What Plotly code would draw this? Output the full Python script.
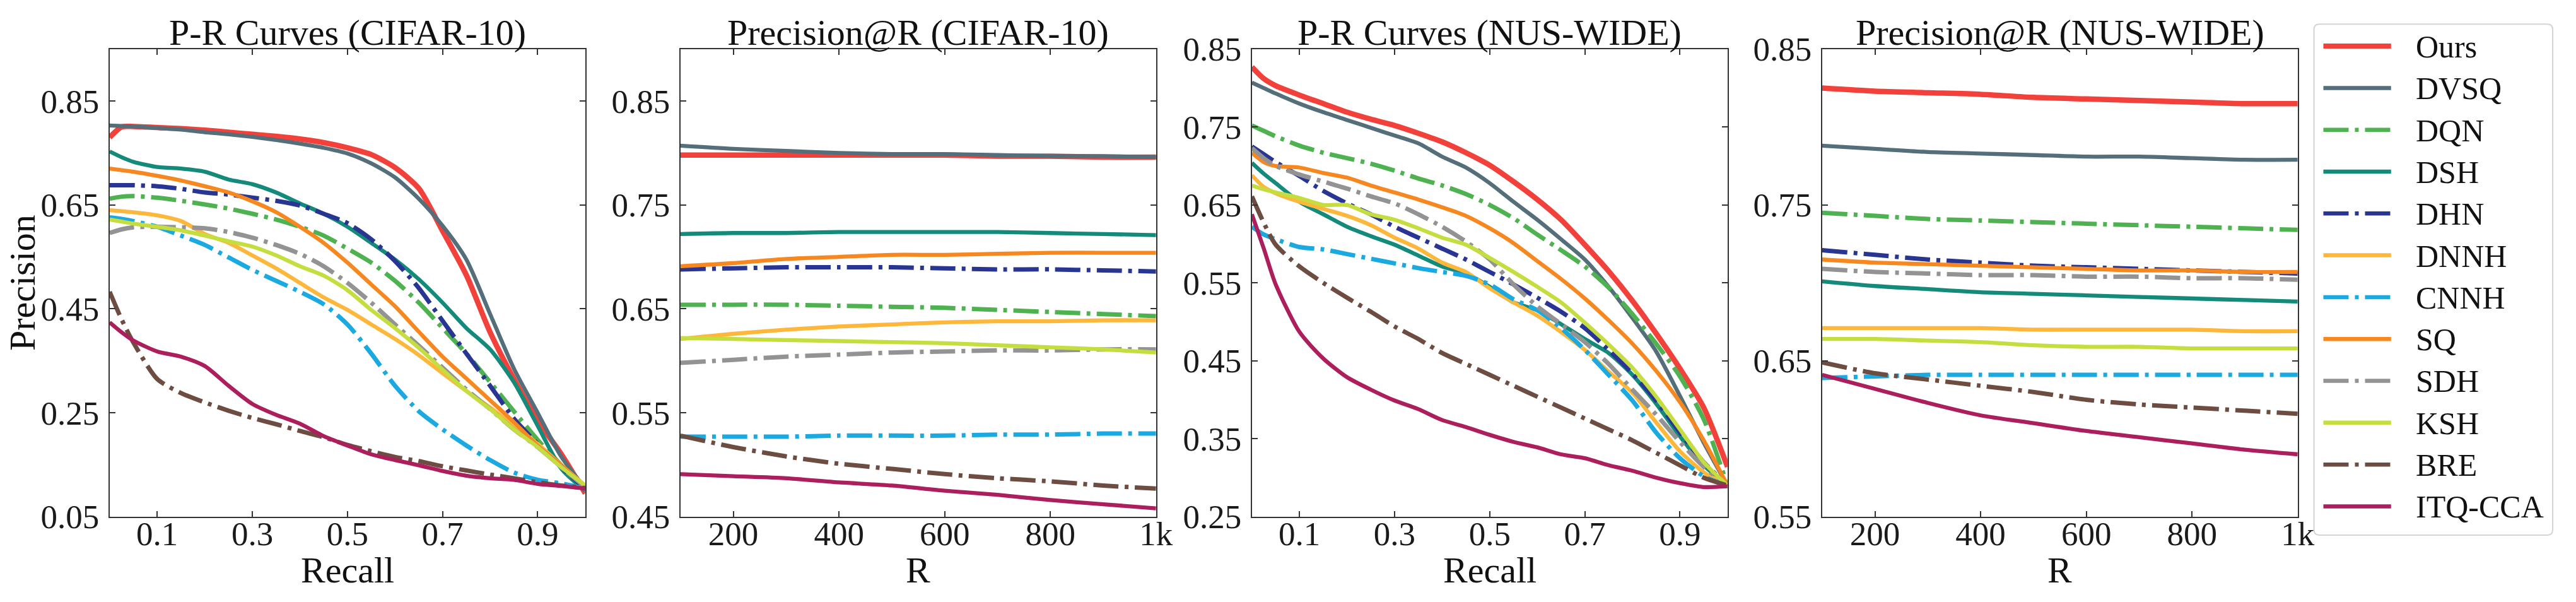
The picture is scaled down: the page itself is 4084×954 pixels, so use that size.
import plotly.graph_objects as go

# ---------------- data ----------------
methods = ["Ours", "DVSQ", "DQN", "DSH", "DHN", "DNNH", "CNNH", "SQ", "SDH", "KSH", "BRE", "ITQ-CCA"]
colors = ["#F2413A", "#546E7A", "#4DB24F", "#138A7A", "#283593", "#FDB73B",
          "#1AA9E0", "#F7871F", "#939393", "#C6DD3F", "#6D4C41", "#AD1F5C"]
dashdot = ["DQN", "DHN", "CNNH", "SDH", "BRE"]

recall = [0, 0.025, 0.05, 0.1, 0.15, 0.2, 0.25, 0.3, 0.35, 0.4, 0.45, 0.5,
          0.55, 0.6, 0.65, 0.7, 0.75, 0.8, 0.85, 0.9, 0.95, 1.0]
r_values = [100, 200, 300, 400, 500, 600, 700, 800, 900, 1000]

pr_cifar = {
    "Ours":    [0.780, 0.800, 0.801, 0.799, 0.797, 0.794, 0.790, 0.786, 0.782, 0.777, 0.770, 0.760, 0.747, 0.722, 0.682, 0.600, 0.515, 0.405, 0.315, 0.235, 0.170, 0.095],
    "DVSQ":    [0.803, 0.802, 0.801, 0.798, 0.795, 0.790, 0.786, 0.781, 0.775, 0.768, 0.760, 0.749, 0.730, 0.703, 0.662, 0.610, 0.545, 0.440, 0.335, 0.250, 0.165, 0.105],
    "DQN":     [0.662, 0.666, 0.667, 0.664, 0.658, 0.651, 0.643, 0.633, 0.622, 0.608, 0.591, 0.566, 0.539, 0.504, 0.462, 0.413, 0.364, 0.309, 0.253, 0.198, 0.149, 0.107],
    "DSH":     [0.753, 0.742, 0.733, 0.723, 0.720, 0.714, 0.699, 0.690, 0.674, 0.653, 0.633, 0.608, 0.577, 0.545, 0.507, 0.462, 0.413, 0.372, 0.309, 0.225, 0.142, 0.100],
    "DHN":     [0.688, 0.688, 0.688, 0.686, 0.681, 0.674, 0.670, 0.664, 0.658, 0.649, 0.633, 0.615, 0.584, 0.542, 0.490, 0.427, 0.364, 0.302, 0.239, 0.190, 0.145, 0.104],
    "DNNH":    [0.640, 0.638, 0.636, 0.630, 0.619, 0.594, 0.577, 0.553, 0.528, 0.500, 0.472, 0.448, 0.420, 0.392, 0.361, 0.326, 0.292, 0.260, 0.225, 0.190, 0.149, 0.110],
    "CNNH":    [0.626, 0.623, 0.619, 0.608, 0.591, 0.573, 0.549, 0.525, 0.504, 0.483, 0.459, 0.420, 0.364, 0.302, 0.253, 0.218, 0.187, 0.159, 0.135, 0.121, 0.114, 0.104],
    "SQ":      [0.720, 0.717, 0.714, 0.706, 0.697, 0.686, 0.674, 0.657, 0.636, 0.608, 0.577, 0.539, 0.497, 0.455, 0.406, 0.358, 0.316, 0.274, 0.232, 0.187, 0.149, 0.107],
    "SDH":     [0.596, 0.603, 0.607, 0.608, 0.607, 0.605, 0.598, 0.587, 0.573, 0.556, 0.532, 0.500, 0.462, 0.420, 0.379, 0.337, 0.295, 0.257, 0.218, 0.184, 0.145, 0.107],
    "KSH":     [0.622, 0.618, 0.614, 0.608, 0.601, 0.591, 0.580, 0.570, 0.553, 0.532, 0.514, 0.486, 0.448, 0.413, 0.375, 0.333, 0.292, 0.257, 0.218, 0.184, 0.145, 0.110],
    "BRE":     [0.483, 0.430, 0.385, 0.315, 0.288, 0.270, 0.254, 0.240, 0.228, 0.215, 0.203, 0.188, 0.176, 0.165, 0.157, 0.147, 0.139, 0.131, 0.124, 0.116, 0.110, 0.105],
    "ITQ-CCA": [0.424, 0.405, 0.389, 0.368, 0.358, 0.340, 0.302, 0.267, 0.246, 0.229, 0.205, 0.187, 0.170, 0.159, 0.149, 0.138, 0.129, 0.124, 0.121, 0.113, 0.109, 0.104],
}

patr_cifar = {
    "Ours":    [0.798, 0.798, 0.798, 0.798, 0.798, 0.798, 0.797, 0.797, 0.796, 0.796],
    "DVSQ":    [0.807, 0.804, 0.802, 0.800, 0.799, 0.799, 0.798, 0.797, 0.797, 0.796],
    "DQN":     [0.654, 0.654, 0.654, 0.653, 0.652, 0.651, 0.649, 0.647, 0.645, 0.643],
    "DSH":     [0.722, 0.723, 0.723, 0.724, 0.724, 0.724, 0.724, 0.723, 0.722, 0.721],
    "DHN":     [0.688, 0.689, 0.690, 0.690, 0.690, 0.689, 0.688, 0.688, 0.687, 0.686],
    "DNNH":    [0.621, 0.626, 0.630, 0.633, 0.635, 0.637, 0.638, 0.638, 0.639, 0.639],
    "CNNH":    [0.527, 0.527, 0.527, 0.528, 0.528, 0.528, 0.529, 0.529, 0.530, 0.530],
    "SQ":      [0.691, 0.694, 0.698, 0.700, 0.702, 0.702, 0.703, 0.704, 0.704, 0.704],
    "SDH":     [0.598, 0.601, 0.604, 0.606, 0.608, 0.609, 0.610, 0.610, 0.611, 0.611],
    "KSH":     [0.622, 0.621, 0.620, 0.619, 0.618, 0.617, 0.615, 0.613, 0.611, 0.608],
    "BRE":     [0.528, 0.517, 0.508, 0.501, 0.496, 0.491, 0.487, 0.484, 0.480, 0.477],
    "ITQ-CCA": [0.491, 0.489, 0.487, 0.483, 0.480, 0.475, 0.471, 0.466, 0.462, 0.458],
}

pr_nus = {
    "Ours":    [0.827, 0.812, 0.803, 0.791, 0.780, 0.769, 0.760, 0.752, 0.742, 0.731, 0.717, 0.701, 0.680, 0.657, 0.631, 0.599, 0.565, 0.527, 0.485, 0.440, 0.390, 0.314],
    "DVSQ":    [0.807, 0.800, 0.793, 0.780, 0.769, 0.759, 0.749, 0.739, 0.729, 0.712, 0.698, 0.678, 0.654, 0.631, 0.606, 0.580, 0.545, 0.505, 0.462, 0.405, 0.345, 0.290],
    "DQN":     [0.752, 0.745, 0.738, 0.726, 0.717, 0.710, 0.703, 0.694, 0.684, 0.675, 0.664, 0.650, 0.633, 0.612, 0.592, 0.571, 0.544, 0.510, 0.472, 0.430, 0.375, 0.290],
    "DSH":     [0.704, 0.690, 0.678, 0.654, 0.638, 0.622, 0.610, 0.599, 0.585, 0.571, 0.562, 0.545, 0.525, 0.515, 0.497, 0.478, 0.460, 0.432, 0.395, 0.353, 0.316, 0.290],
    "DHN":     [0.725, 0.715, 0.705, 0.687, 0.668, 0.652, 0.638, 0.622, 0.608, 0.594, 0.580, 0.564, 0.548, 0.531, 0.513, 0.492, 0.464, 0.434, 0.399, 0.358, 0.320, 0.290],
    "DNNH":    [0.688, 0.673, 0.665, 0.654, 0.645, 0.636, 0.624, 0.608, 0.594, 0.576, 0.564, 0.543, 0.525, 0.508, 0.487, 0.464, 0.436, 0.409, 0.371, 0.334, 0.307, 0.290],
    "CNNH":    [0.622, 0.612, 0.606, 0.596, 0.593, 0.587, 0.581, 0.575, 0.569, 0.564, 0.559, 0.548, 0.529, 0.515, 0.492, 0.464, 0.432, 0.399, 0.358, 0.325, 0.302, 0.290],
    "SQ":      [0.717, 0.705, 0.700, 0.698, 0.691, 0.685, 0.675, 0.666, 0.657, 0.647, 0.636, 0.620, 0.601, 0.578, 0.555, 0.530, 0.502, 0.472, 0.437, 0.397, 0.348, 0.290],
    "SDH":     [0.723, 0.710, 0.700, 0.689, 0.680, 0.671, 0.661, 0.652, 0.638, 0.622, 0.603, 0.580, 0.548, 0.520, 0.497, 0.474, 0.446, 0.413, 0.381, 0.346, 0.314, 0.290],
    "KSH":     [0.675, 0.670, 0.666, 0.659, 0.650, 0.650, 0.638, 0.631, 0.620, 0.608, 0.599, 0.582, 0.564, 0.545, 0.525, 0.499, 0.471, 0.441, 0.404, 0.362, 0.320, 0.290],
    "BRE":     [0.661, 0.627, 0.599, 0.571, 0.550, 0.531, 0.513, 0.494, 0.478, 0.460, 0.446, 0.432, 0.418, 0.404, 0.390, 0.376, 0.362, 0.348, 0.332, 0.316, 0.300, 0.290],
    "ITQ-CCA": [0.638, 0.594, 0.548, 0.487, 0.453, 0.429, 0.413, 0.399, 0.388, 0.374, 0.365, 0.355, 0.346, 0.339, 0.330, 0.325, 0.316, 0.309, 0.300, 0.293, 0.288, 0.289],
}

patr_nus = {
    "Ours":    [0.825, 0.823, 0.822, 0.821, 0.819, 0.818, 0.817, 0.816, 0.815, 0.815],
    "DVSQ":    [0.788, 0.786, 0.784, 0.783, 0.782, 0.781, 0.781, 0.780, 0.779, 0.779],
    "DQN":     [0.745, 0.743, 0.741, 0.740, 0.739, 0.738, 0.737, 0.736, 0.735, 0.734],
    "DSH":     [0.701, 0.698, 0.696, 0.694, 0.693, 0.692, 0.691, 0.690, 0.689, 0.688],
    "DHN":     [0.721, 0.718, 0.715, 0.713, 0.711, 0.710, 0.709, 0.708, 0.707, 0.706],
    "DNNH":    [0.671, 0.671, 0.671, 0.671, 0.670, 0.670, 0.670, 0.670, 0.669, 0.669],
    "CNNH":    [0.639, 0.640, 0.641, 0.641, 0.641, 0.641, 0.641, 0.641, 0.641, 0.641],
    "SQ":      [0.715, 0.713, 0.712, 0.711, 0.710, 0.709, 0.708, 0.708, 0.707, 0.707],
    "SDH":     [0.709, 0.707, 0.706, 0.705, 0.705, 0.704, 0.704, 0.703, 0.703, 0.702],
    "KSH":     [0.664, 0.664, 0.663, 0.662, 0.660, 0.659, 0.659, 0.658, 0.658, 0.658],
    "BRE":     [0.649, 0.642, 0.638, 0.634, 0.630, 0.625, 0.622, 0.620, 0.618, 0.616],
    "ITQ-CCA": [0.641, 0.632, 0.623, 0.615, 0.610, 0.605, 0.601, 0.597, 0.593, 0.590],
}

titles = ["P-R Curves (CIFAR-10)", "Precision@R (CIFAR-10)", "P-R Curves (NUS-WIDE)", "Precision@R (NUS-WIDE)"]
x_titles = ["Recall", "R", "Recall", "R"]
y_title = "Precision"
recall_ticks = [0.1, 0.3, 0.5, 0.7, 0.9]
r_ticks = [200, 400, 600, 800, 1000]
r_tick_text = ["200", "400", "600", "800", "1k"]
y_ticks = [
    [0.05, 0.25, 0.45, 0.65, 0.85],
    [0.45, 0.55, 0.65, 0.75, 0.85],
    [0.25, 0.35, 0.45, 0.55, 0.65, 0.75, 0.85],
    [0.55, 0.65, 0.75, 0.85],
]
y_ranges = [[0.05, 0.95], [0.45, 0.90], [0.25, 0.85], [0.55, 0.85]]

# ---------------- layout geometry (pixels) ----------------
W, H = 4084, 954
FONT = "Liberation Serif, Times New Roman, serif"
plot_left = [175, 1086, 1998, 2908]
plot_w = 759
plot_top, plot_bot = 53, 842

def px(x):
    return x / W

def py(y):
    return 1 - y / H

fig = go.Figure()

panels = [(recall, pr_cifar), (r_values, patr_cifar), (recall, pr_nus), (r_values, patr_nus)]
DASH = "40px,10px,6px,10px"

for i, (xs, data) in enumerate(panels):
    ax = "" if i == 0 else str(i + 1)
    for m, c in zip(methods, colors):
        dd = m in dashdot
        width = 8.5 if m == "Ours" else (7 if dd else 6.3)
        fig.add_trace(go.Scatter(
            x=xs, y=data[m], mode="lines", name=m, showlegend=False,
            line=dict(color=c, width=width, dash=DASH if dd else "solid",
                      shape="spline", smoothing=0.7),
            xaxis="x" + ax, yaxis="y" + ax,
        ))

axis_common = dict(
    showline=True, linecolor="#333333", linewidth=2, mirror="ticks",
    ticks="inside", ticklen=9, tickwidth=2, tickcolor="#333333",
    showgrid=False, zeroline=False,
    tickfont=dict(family=FONT, size=53, color="#1a1a1a"),
)

layout = dict(
    width=W, height=H, autosize=False,
    margin=dict(l=0, r=0, t=0, b=0),
    paper_bgcolor="white", plot_bgcolor="white",
    showlegend=False,
)

annotations = []
for i in range(4):
    ax = "" if i == 0 else str(i + 1)
    x0 = plot_left[i]
    dom = [px(x0), px(x0 + plot_w)]
    if i in (0, 2):
        xa = dict(range=[0, 1], tickvals=recall_ticks, ticktext=[f"{t:.1f}" for t in recall_ticks])
    else:
        xa = dict(range=[100, 1000], tickvals=r_ticks, ticktext=r_tick_text)
    xa.update(axis_common)
    xa.update(domain=dom, anchor="y" + ax, ticklabelstandoff=-20)
    ya = dict(range=y_ranges[i], tickvals=y_ticks[i], ticktext=[f"{t:.2f}" for t in y_ticks[i]])
    ya.update(axis_common)
    ya.update(domain=[py(plot_bot), py(plot_top)], anchor="x" + ax, ticklabelstandoff=4)
    layout["xaxis" + ax] = xa
    layout["yaxis" + ax] = ya

    cx = px(x0 + plot_w / 2)
    annotations.append(dict(text=titles[i], x=cx, y=py(25), xref="paper", yref="paper",
                            xanchor="center", yanchor="middle", showarrow=False,
                            font=dict(family=FONT, size=58, color="#111111")))
    annotations.append(dict(text=x_titles[i], x=cx, y=py(932), xref="paper", yref="paper",
                            xanchor="center", yanchor="middle", showarrow=False,
                            font=dict(family=FONT, size=58, color="#111111")))

annotations.append(dict(text=y_title, x=px(36), y=py((plot_top + plot_bot) / 2), xref="paper", yref="paper",
                        xanchor="center", yanchor="middle", showarrow=False, textangle=-90,
                        font=dict(family=FONT, size=58, color="#111111")))

# ---------------- custom legend ----------------
shapes = []
lx0, lx1, ly0, ly1, rad = 3693, 4074, 11, 873, 9
path = (f"M {px(lx0 + rad)},{py(ly0)} L {px(lx1 - rad)},{py(ly0)} "
        f"Q {px(lx1)},{py(ly0)} {px(lx1)},{py(ly0 + rad)} "
        f"L {px(lx1)},{py(ly1 - rad)} Q {px(lx1)},{py(ly1)} {px(lx1 - rad)},{py(ly1)} "
        f"L {px(lx0 + rad)},{py(ly1)} Q {px(lx0)},{py(ly1)} {px(lx0)},{py(ly1 - rad)} "
        f"L {px(lx0)},{py(ly0 + rad)} Q {px(lx0)},{py(ly0)} {px(lx0 + rad)},{py(ly0)} Z")
shapes.append(dict(type="path", path=path, xref="paper", yref="paper",
                   line=dict(color="#d4d4d4", width=2), fillcolor="white", layer="below"))
item_y0, item_step = 48, 70.6
for k, (m, c) in enumerate(zip(methods, colors)):
    yy = item_y0 + k * item_step
    dd = m in dashdot
    shapes.append(dict(type="line", xref="paper", yref="paper",
                       x0=px(3708), x1=px(3816), y0=py(yy), y1=py(yy),
                       line=dict(color=c, width=8 if m == "Ours" else 6.5,
                                 dash=DASH if dd else "solid")))
    annotations.append(dict(text=m, x=px(3853), y=py(yy + 1), xref="paper", yref="paper",
                            xanchor="left", yanchor="middle", showarrow=False,
                            font=dict(family=FONT, size=50, color="#111111")))

layout["annotations"] = annotations
layout["shapes"] = shapes
fig.update_layout(**layout)
fig.write_html("out.html")
